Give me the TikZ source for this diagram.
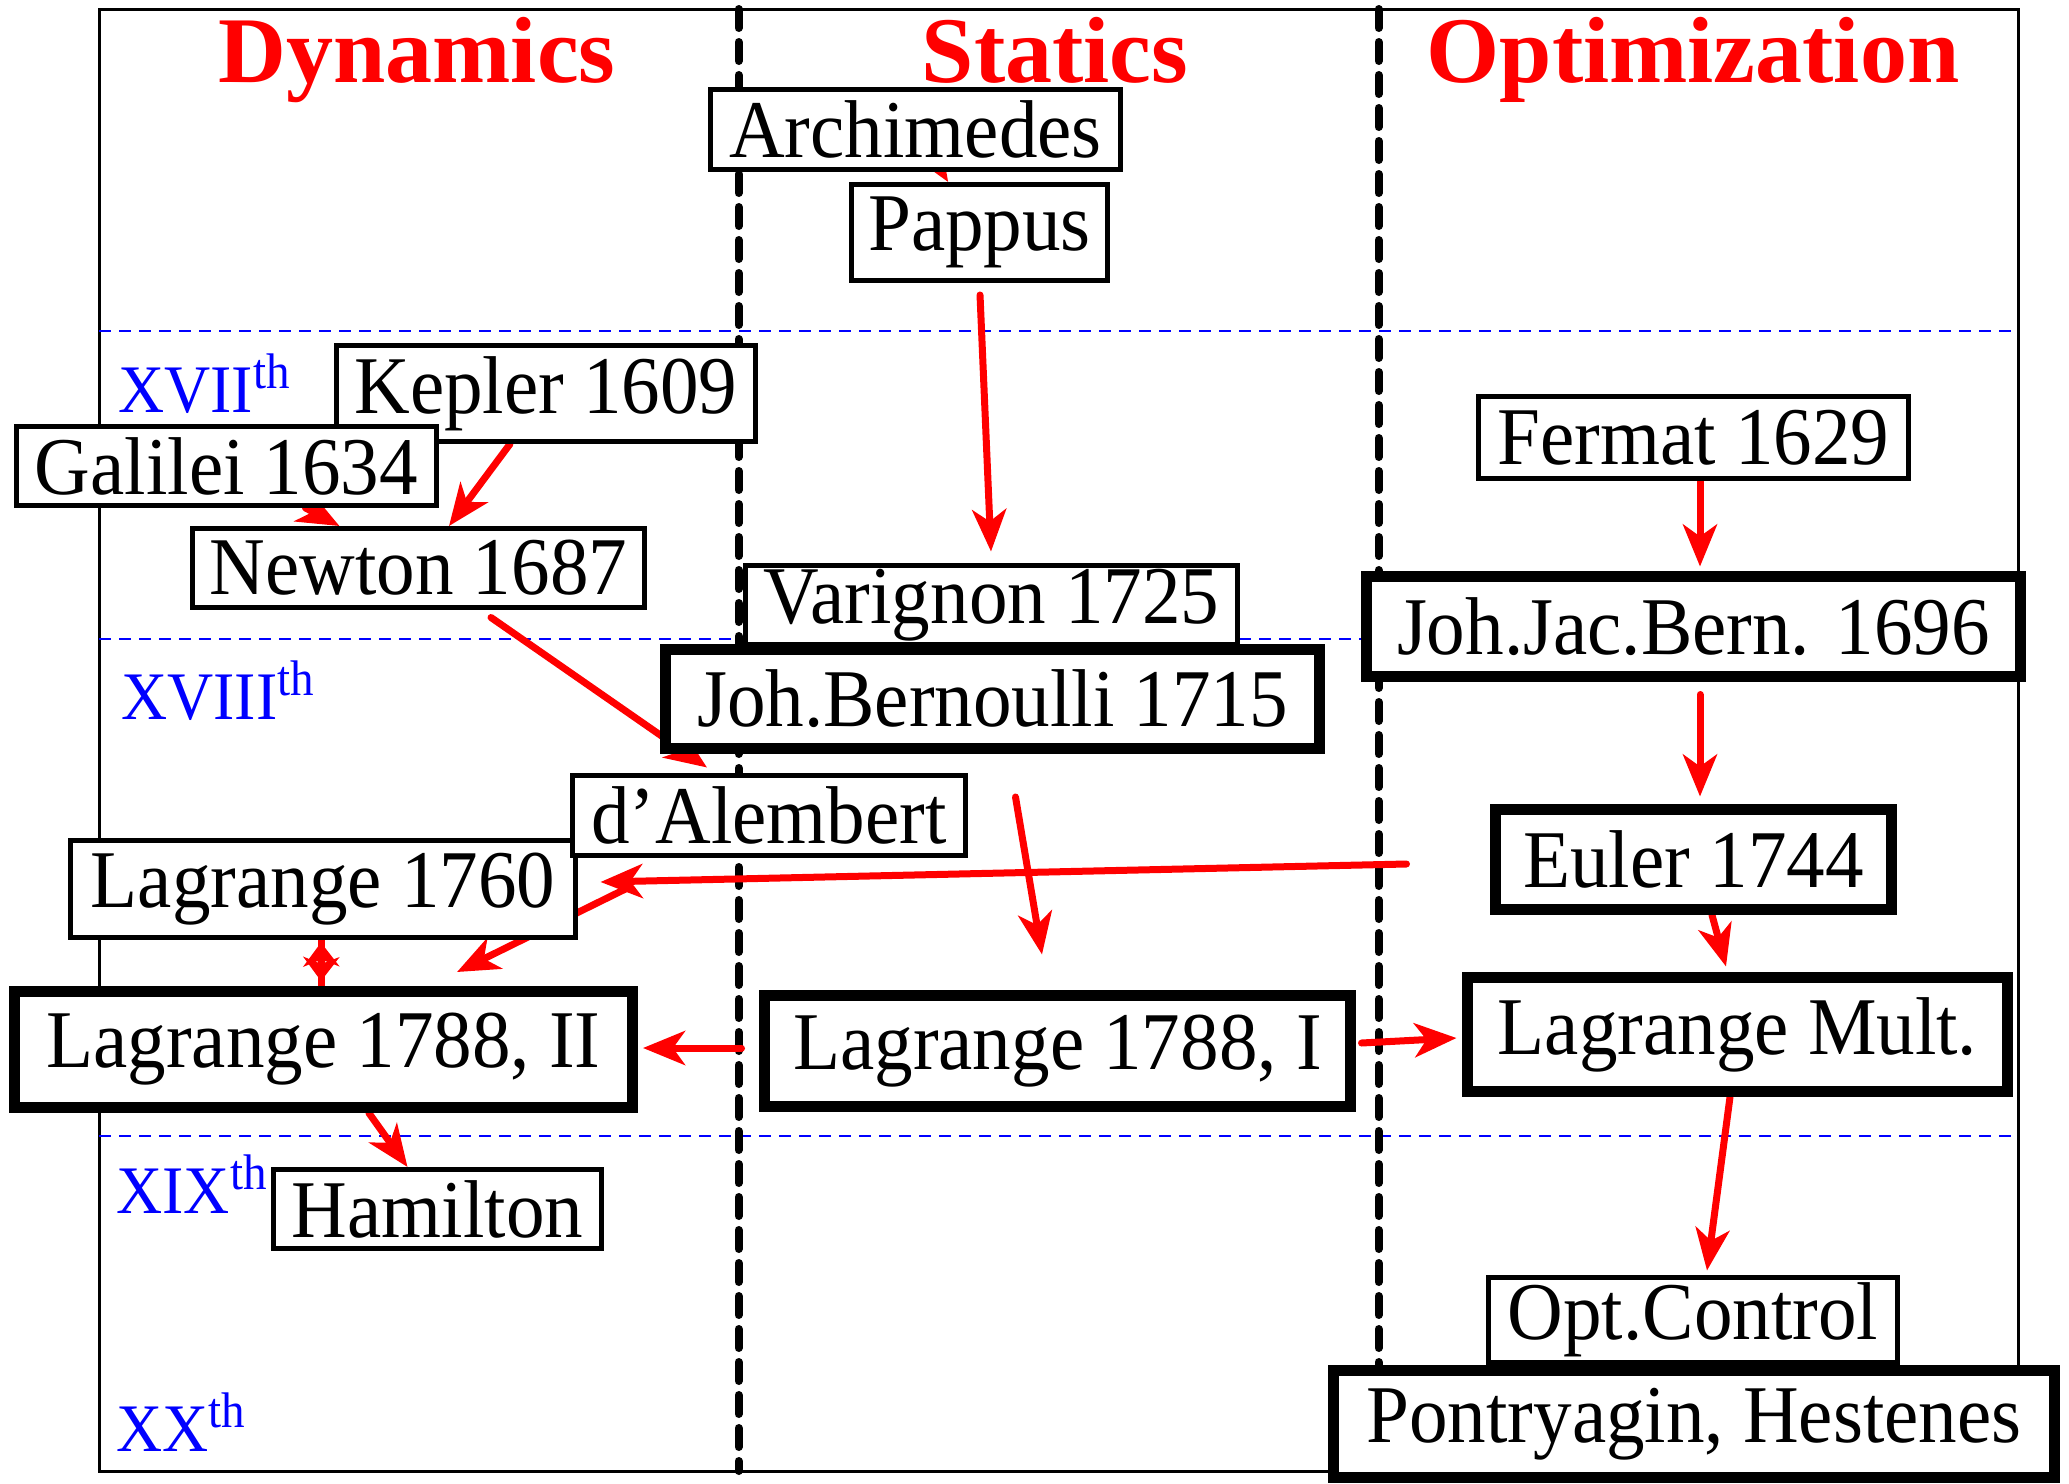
\documentclass[tikz,border=0pt]{standalone}
\usepackage{fontspec}
\setmainfont{Liberation Serif}
\newfontfamily\condfont[FakeStretch=0.94]{Liberation Serif}
\usetikzlibrary{arrows.meta,calc}
\pgfdeclarelayer{grid}
\pgfdeclarelayer{links}
\pgfsetlayers{grid,links,main}
\begin{document}
\begin{tikzpicture}[x=0.5pt,y=-0.5pt,
  >={Stealth[length=21pt,width=17pt,inset=6pt]},
  box/.style={draw, fill=white, line width=2.5pt, inner sep=0pt,
    font=\condfont\fontsize{41}{41}\selectfont},
  heavy/.style={box, line width=5.5pt},
  link/.style={draw=red, line width=3.5pt, line cap=round, ->},
  shaft/.style={draw=red, line width=3.5pt},
  halfway/.style={draw=red, line width=3.5pt,
    -{Stealth[length=12pt,width=18pt,inset=3.5pt]}},
  era/.style={blue, anchor=base west, inner sep=0pt,
    font=\condfont\fontsize{34}{34}\selectfont},
  field/.style={red, anchor=base, inner sep=0pt,
    font=\bfseries\fontsize{47}{47}\selectfont},
  lane/.style={line width=4pt, line cap=round, dash pattern=on 9.5pt off 7pt},
  century/.style={blue, line width=1pt, dash pattern=on 6pt off 4pt}]

\useasboundingbox (0,0) rectangle (2069,1484);

% frame, column separators and century separators
\begin{pgfonlayer}{grid}
  \draw[line width=1.5pt] (99,9) rectangle (2018,1471);
  \draw[century] (99,331) -- (2018,331);
  \draw[century] (99,639) -- (2018,639);
  \draw[century] (99,1136) -- (2018,1136);
  \draw[lane] (738.5,9) -- (738.5,1471);
  \draw[lane] (1378.5,9) -- (1378.5,1471);
\end{pgfonlayer}

% column titles
\node[field] (dyn) at (417,82) {Dynamics};
\node[field] (stat) at (1055,82) {Statics};
\node[field] (opt) at (1693,82) {Optimization};

% centuries
\node[era] (c17) at (118,412) {XVII\raisebox{12pt}{\fontsize{25}{25}\selectfont th}};
\node[era] (c18) at (121,719) {XVIII\raisebox{12pt}{\fontsize{25}{25}\selectfont th}};
\node[era] (c19) at (116,1213) {XIX\raisebox{12pt}{\fontsize{25}{25}\selectfont th}};
\node[era] (c20) at (116,1451) {XX\raisebox{12pt}{\fontsize{25}{25}\selectfont th}};

% people and works
\node[box, minimum width=205pt, minimum height=40pt] (archimedes) at (915.5,129.5) {Archimedes};
\node[box, minimum width=128pt, minimum height=48pt] (pappus) at (979.5,232.5) {Pappus};
\node[box, minimum width=209.5pt, minimum height=48pt] (kepler) at (546,393.5) {Kepler 1609};
\node[box, minimum width=210pt, minimum height=39.5pt] (galilei) at (226.5,466) {Galilei 1634};
\node[box, minimum width=226pt, minimum height=39.5pt] (newton) at (418.5,568) {Newton 1687};
\node[box, minimum width=246pt, minimum height=39.5pt] (varignon) at (991.5,605) {Varignon 1725};
\node[heavy, minimum width=327pt, minimum height=49.5pt] (johbern) at (992.5,699) {Joh.Bernoulli 1715};
\node[box, minimum width=252.5pt, minimum height=48.5pt] (lag1760) at (323,889) {Lagrange 1760};
\node[box, minimum width=196.5pt, minimum height=40pt] (dalembert) at (769,815.5) {d’Alembert};
\node[heavy, minimum width=309pt, minimum height=58pt] (lagII) at (323.5,1049.5) {Lagrange 1788, II};
\node[heavy, minimum width=293pt, minimum height=55.5pt] (lagI) at (1057.5,1051) {Lagrange 1788, I};
\node[box, minimum width=164pt, minimum height=39.5pt] (hamilton) at (437.5,1209) {Hamilton};
\node[box, minimum width=215pt, minimum height=41pt] (fermat) at (1693.5,437.5) {Fermat 1629};
\node[heavy, minimum width=327pt, minimum height=50pt] (jjb) at (1693.5,626.5) {Joh.Jac.Bern. 1696};
\node[heavy, minimum width=198pt, minimum height=50pt] (euler) at (1693.5,859.5) {Euler 1744};
\node[heavy, minimum width=270pt, minimum height=57pt] (lagmult) at (1737.5,1034.5) {Lagrange Mult.};
\node[box, minimum width=204.5pt, minimum height=42.5pt] (optctrl) at (1693,1320) {Opt.Control};
\node[heavy, minimum width=360.5pt, minimum height=53.5pt] (pontr) at (1694,1424) {Pontryagin, Hestenes};

% midpoint of the two-way link between the two Lagrange boxes
\coordinate (lagmid) at ($(lag1760.south)!0.5!(lagII.north)+(-2,0)$);

% influences
\begin{pgfonlayer}{links}
  \draw[link] (archimedes) -- (pappus);
  \draw[link, shorten <=6pt, shorten >=5.75pt] (pappus.south) -- (varignon.north);
  \draw[link] ($(kepler.south)+(-36,0)$) -- ($(newton.north)+(30.5,0)$);
  \draw[link] (galilei) -- (newton);
  \draw[link] ($(newton.south)+(72.5,7.5)$) -- ($(dalembert.north)+(-62,-5.5)$);
  \draw[link] ($(dalembert.east)+(47.5,-18.5)$) -- ($(lagI.north)+(-15.5,-35.5)$);
  \draw[link] ($(euler.west)+(-83.5,4.5)$) -- ($(lag1760.east)+(22.5,-7)$);
  \draw[link] ($(lag1760.east)+(51.5,-2)$) -- ($(lagII.north)+(133.5,-14)$);
  \draw[shaft] ($(lag1760.south)+(-2,0)$) -- ($(lagII.north)+(-2.5,0)$);
  \draw[halfway] (lagmid) -- ($(lag1760.south)+(-2,2.5)$);
  \draw[halfway] (lagmid) -- ($(lagII.north)+(-2.5,-5)$);
  \draw[link] ($(lagI.west)+(-17.5,-3)$) -- ($(lagII.east)+(5,-1.5)$);
  \draw[link] (lagII) -- (hamilton);
  \draw[link] ($(fermat.south)+(6.5,0)$) -- ($(jjb.north)+(6.5,-4.5)$);
  \draw[link] ($(jjb.south)+(6.5,12.5)$) -- ($(euler.north)+(6.5,-7.5)$);
  \draw[link] ($(euler.south)+(18.5,0)$) -- ($(lagmult.north)+(-11.5,-5.5)$);
  \draw[link] ($(lagI.east)+(5.5,-8)$) -- ($(lagmult.west)+(-5.5,3.5)$);
  \draw[link] ($(lagmult.south)+(-7.5,0)$) -- ($(optctrl.north)+(14,-4.5)$);
\end{pgfonlayer}
\end{tikzpicture}
\end{document}
